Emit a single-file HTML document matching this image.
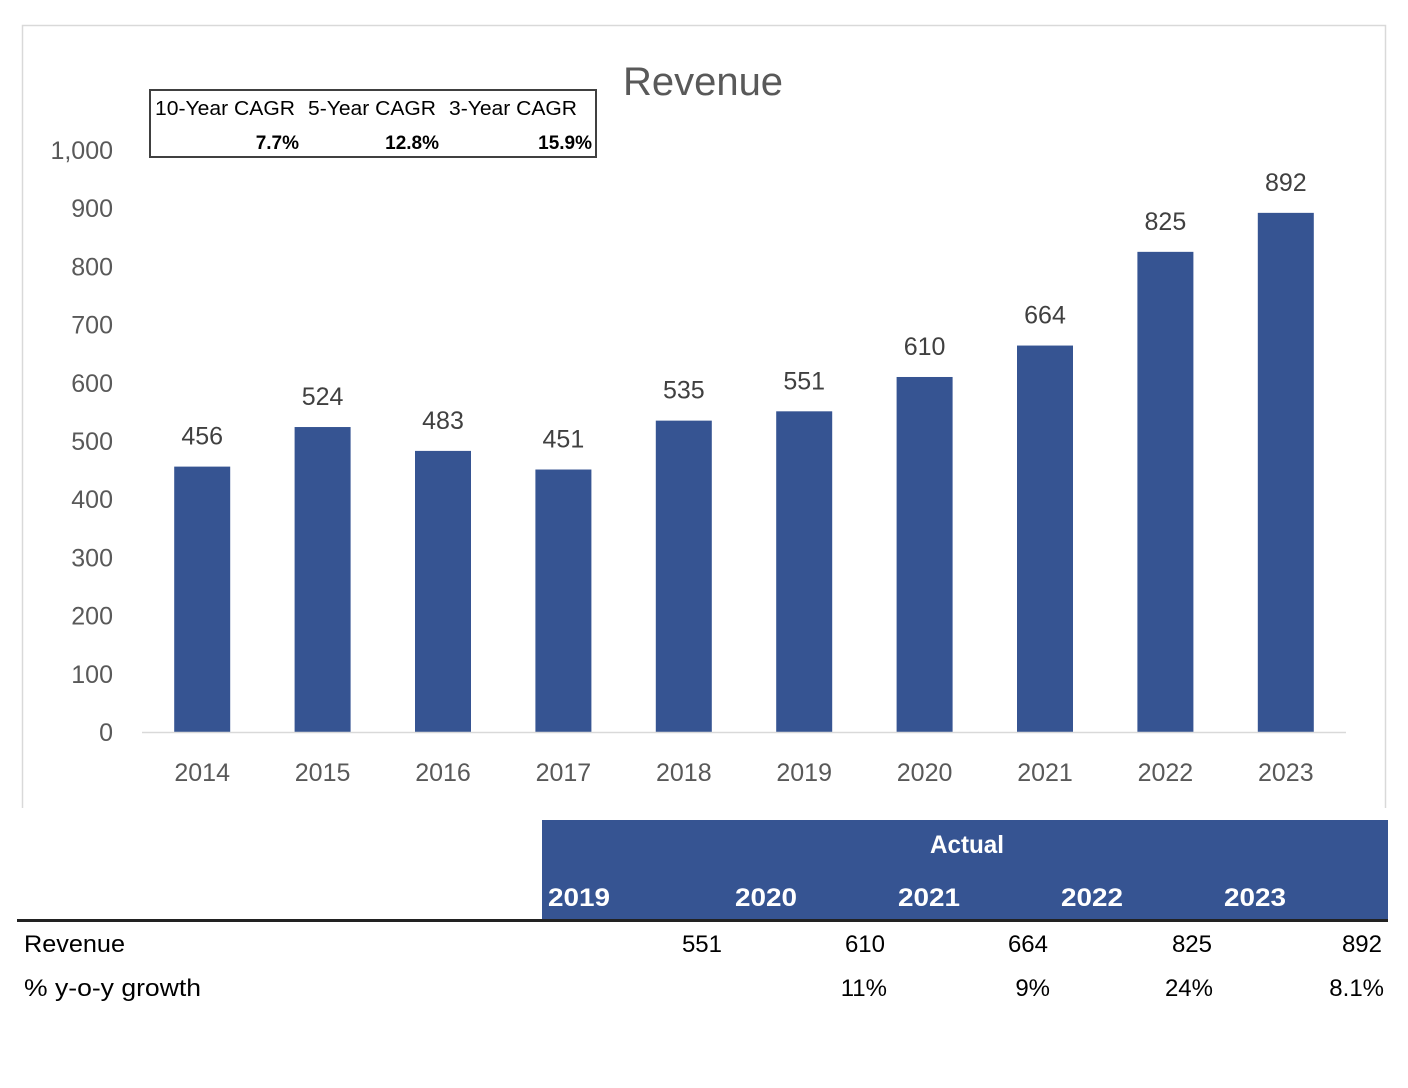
<!DOCTYPE html>
<html><head><meta charset="utf-8">
<style>
html,body{margin:0;padding:0;background:#fff;width:1408px;height:1088px;overflow:hidden;font-family:"Liberation Sans",sans-serif}
svg text{font-family:"Liberation Sans",sans-serif}
</style></head>
<body>
<svg id="chart" width="1408" height="1088" xmlns="http://www.w3.org/2000/svg">
  <path d="M22.5,808 V25.5 H1385.5 V808" fill="none" stroke="#d9d9d9" stroke-width="1.5"/>
  <text x="703" y="95" text-anchor="middle" font-size="40" fill="#595959">Revenue</text>
  <g>
    <rect x="150" y="90" width="446" height="67" fill="#fff" stroke="#404040" stroke-width="2"/>
    <text x="155" y="115" font-size="20" fill="#000" textLength="140" lengthAdjust="spacingAndGlyphs">10-Year CAGR</text>
    <text x="308" y="115" font-size="20" fill="#000" textLength="128" lengthAdjust="spacingAndGlyphs">5-Year CAGR</text>
    <text x="449" y="115" font-size="20" fill="#000" textLength="128" lengthAdjust="spacingAndGlyphs">3-Year CAGR</text>
    <text x="299" y="149" font-size="19" font-weight="bold" text-anchor="end" fill="#000">7.7%</text>
    <text x="439" y="149" font-size="19" font-weight="bold" text-anchor="end" fill="#000">12.8%</text>
    <text x="592" y="149" font-size="19" font-weight="bold" text-anchor="end" fill="#000">15.9%</text>
  </g>
  <g id="yaxis"></g>
  <g id="bars"></g>
  <g id="xaxis"></g>
  <g>
    <rect x="542" y="820" width="846" height="100" fill="#365492"/>
    <text x="967" y="853" font-size="25" font-weight="bold" fill="#fff" text-anchor="middle" textLength="74" lengthAdjust="spacingAndGlyphs">Actual</text>
    <g font-size="25" font-weight="bold" fill="#fff">
      <text x="548" y="906" textLength="62" lengthAdjust="spacingAndGlyphs">2019</text>
      <text x="735" y="906" textLength="62" lengthAdjust="spacingAndGlyphs">2020</text>
      <text x="898" y="906" textLength="62" lengthAdjust="spacingAndGlyphs">2021</text>
      <text x="1061" y="906" textLength="62" lengthAdjust="spacingAndGlyphs">2022</text>
      <text x="1224" y="906" textLength="62" lengthAdjust="spacingAndGlyphs">2023</text>
    </g>
    <rect x="17" y="919" width="1371" height="3" fill="#222"/>
    <g font-size="24" fill="#000">
      <text x="24" y="952" textLength="101" lengthAdjust="spacingAndGlyphs">Revenue</text>
      <text x="24" y="996" textLength="177" lengthAdjust="spacingAndGlyphs">% y-o-y growth</text>
    </g>
    <g font-size="24" fill="#000" text-anchor="end">
      <text x="722" y="952">551</text><text x="885" y="952">610</text><text x="1048" y="952">664</text><text x="1212" y="952">825</text><text x="1382" y="952">892</text>
      <text x="887" y="996">11%</text><text x="1050" y="996">9%</text><text x="1213" y="996">24%</text><text x="1384" y="996">8.1%</text>
    </g>
  </g>
</svg>
<script>
const categories = ["2014","2015","2016","2017","2018","2019","2020","2021","2022","2023"];
const revenue = [456,524,483,451,535,551,610,664,825,892];
const yTicks = [0,100,200,300,400,500,600,700,800,900,1000];
const yTickLabels = ["0","100","200","300","400","500","600","700","800","900","1,000"];

const NS = "http://www.w3.org/2000/svg";
const plotL = 142, plotR = 1346, y0 = 732, y1000 = 150;
function yScale(v){ return y0 - (v/1000)*(y0 - y1000); }
function xBand(i){ const w=(plotR-plotL)/categories.length; return plotL + w*i + w/2; }
function mk(tag, attrs, parent){ const e=document.createElementNS(NS,tag); for(const k in attrs) e.setAttribute(k,attrs[k]); parent.appendChild(e); return e; }

const ya = document.getElementById('yaxis');
yTicks.forEach((t,i)=>{
  const tx = mk('text',{x:113,y:yScale(t)+9,'text-anchor':'end','font-size':25,fill:'#595959'},ya);
  tx.textContent = yTickLabels[i];
  
  
});

const bg = document.getElementById('bars');
const bw = 56;
revenue.forEach((v,i)=>{
  const cx = xBand(i);
  const r = mk('rect',{x:cx-bw/2,y:yScale(v),width:bw,height:y0-yScale(v),fill:'#365492'},bg);
  
  
  const lb = mk('text',{x:cx,y:yScale(v)-22,'text-anchor':'middle','font-size':25,fill:'#404040'},bg);
  lb.textContent = String(v);
  
  
});

const xa = document.getElementById('xaxis');
const ax = mk('line',{x1:plotL,x2:plotR,y1:y0+0.5,y2:y0+0.5,stroke:'#d9d9d9','stroke-width':1.5},xa);


categories.forEach((c,i)=>{
  const t = mk('text',{x:xBand(i),y:781,'text-anchor':'middle','font-size':25,fill:'#595959'},xa);
  t.textContent = c;
  
  
});
</script>
</body></html>
